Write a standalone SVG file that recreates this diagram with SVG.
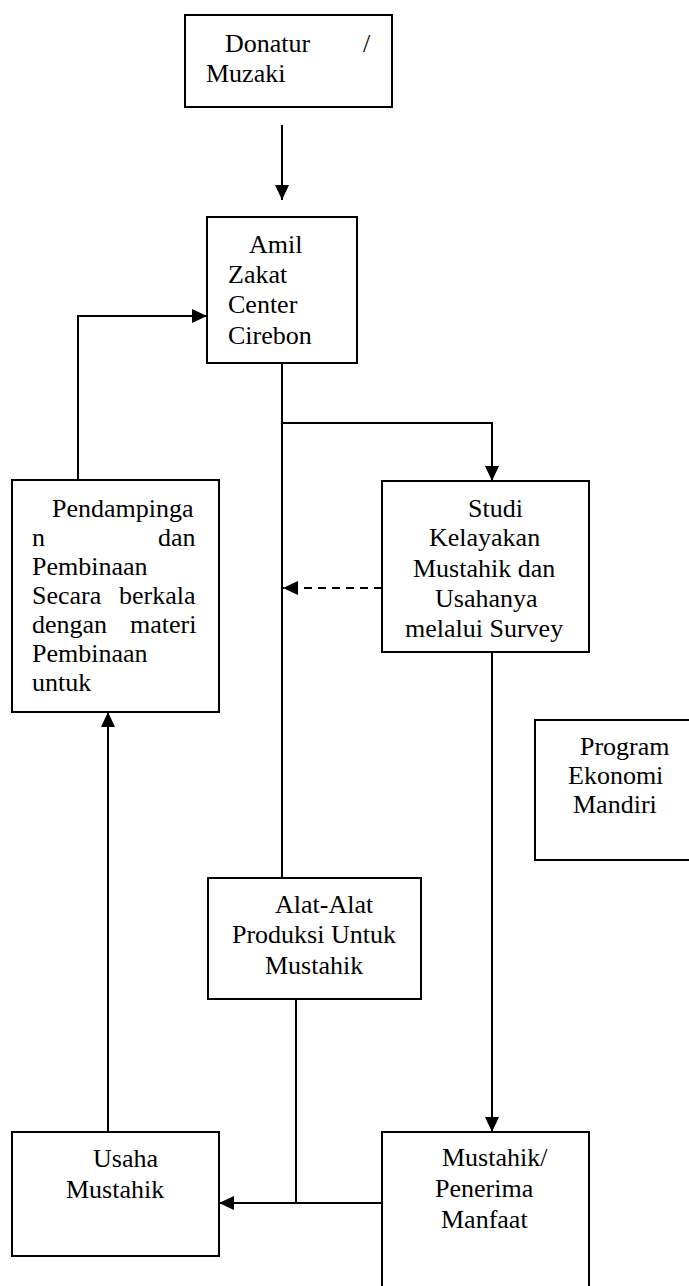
<svg xmlns="http://www.w3.org/2000/svg" width="689" height="1286" viewBox="0 0 689 1286">
<style>
.box{fill:#fff;stroke:#000;stroke-width:2}
.t{font-family:"Liberation Serif","Times New Roman",serif;font-size:26px;fill:#000}
.c{fill:none;stroke:#000;stroke-width:2}
.d{fill:none;stroke:#000;stroke-width:2;stroke-dasharray:8 6}
</style>
<defs>
<marker id="ah" markerUnits="userSpaceOnUse" markerWidth="15" markerHeight="14" refX="15" refY="7" orient="auto">
<path d="M0,0 L15,7 L0,14 z" fill="#000"/>
</marker>
</defs>
<rect width="689" height="1286" fill="#fff"/>
<g id="connectors">
<line class="c" x1="282" y1="125" x2="282" y2="200" marker-end="url(#ah)"/>
<polyline class="c" points="78,480 78,316 207,316" marker-end="url(#ah)"/>
<line class="c" x1="282" y1="363" x2="282" y2="878"/>
<polyline class="c" points="282,423 492,423 492,481" marker-end="url(#ah)"/>
<line class="d" x1="382" y1="588" x2="283" y2="588" marker-end="url(#ah)"/>
<line class="c" x1="492" y1="652" x2="492" y2="1132" marker-end="url(#ah)"/>
<line class="c" x1="108" y1="1132" x2="108" y2="712" marker-end="url(#ah)"/>
<line class="c" x1="296" y1="999" x2="296" y2="1203"/>
<line class="c" x1="382" y1="1203" x2="219" y2="1203" marker-end="url(#ah)"/>
</g>
<g id="donatur">
<rect class="box" x="185" y="15" width="207" height="92"/>
<text class="t"><tspan x="225" y="52">Donatur</tspan><tspan x="363" y="52">/</tspan><tspan x="206" y="82">Muzaki</tspan></text>
</g>
<g id="amil">
<rect class="box" x="207" y="217" width="150" height="146"/>
<text class="t"><tspan x="249" y="253">Amil</tspan><tspan x="228" y="283">Zakat</tspan><tspan x="228" y="313">Center</tspan><tspan x="228" y="344">Cirebon</tspan></text>
</g>
<g id="pendampingan">
<rect class="box" x="12" y="480" width="207" height="232"/>
<text class="t"><tspan x="52" y="517">Pendampinga</tspan><tspan x="32" y="546">n</tspan><tspan x="158" y="546">dan</tspan><tspan x="32" y="575">Pembinaan</tspan><tspan x="32" y="604">Secara</tspan><tspan x="119" y="604">berkala</tspan><tspan x="32" y="633">dengan</tspan><tspan x="130" y="633">materi</tspan><tspan x="32" y="662">Pembinaan</tspan><tspan x="32" y="691">untuk</tspan></text>
</g>
<g id="studi">
<rect class="box" x="382" y="481" width="207" height="171"/>
<text class="t"><tspan x="468" y="517">Studi</tspan><tspan x="429" y="546">Kelayakan</tspan><tspan x="413" y="577">Mustahik dan</tspan><tspan x="435" y="607">Usahanya</tspan><tspan x="405" y="637">melalui Survey</tspan></text>
</g>
<g id="program">
<rect class="box" x="535" y="720" width="160" height="140"/>
<text class="t"><tspan x="580" y="755">Program</tspan><tspan x="568" y="784">Ekonomi</tspan><tspan x="573" y="813">Mandiri</tspan></text>
</g>
<g id="alat">
<rect class="box" x="208" y="878" width="213" height="121"/>
<text class="t"><tspan x="275" y="913">Alat-Alat</tspan><tspan x="232" y="943">Produksi Untuk</tspan><tspan x="265" y="974">Mustahik</tspan></text>
</g>
<g id="usaha">
<rect class="box" x="12" y="1132" width="207" height="124"/>
<text class="t"><tspan x="93" y="1167">Usaha</tspan><tspan x="66" y="1198">Mustahik</tspan></text>
</g>
<g id="mustahik">
<rect class="box" x="382" y="1132" width="207" height="170"/>
<text class="t"><tspan x="442" y="1166">Mustahik/</tspan><tspan x="435" y="1197">Penerima</tspan><tspan x="441" y="1228">Manfaat</tspan></text>
</g>
</svg>
